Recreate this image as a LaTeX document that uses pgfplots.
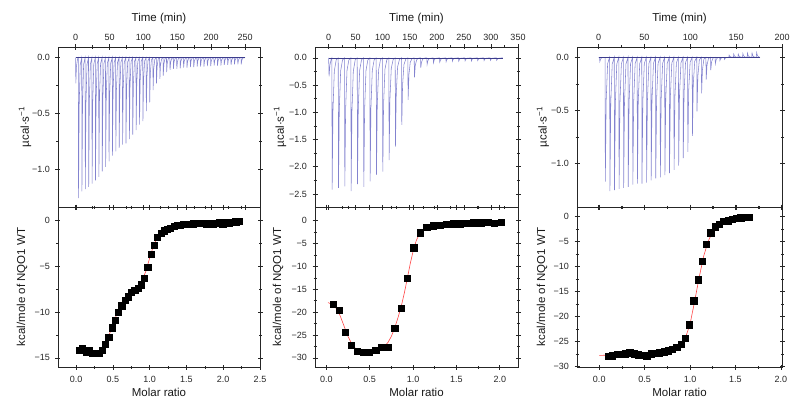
\documentclass[border=0pt]{standalone}
\usepackage{fontspec}
\setmainfont{Liberation Sans}
\usepackage{pgfplots}
\pgfplotsset{compat=1.18}

\definecolor{thermo}{RGB}{100,100,195}
\definecolor{base}{RGB}{60,60,140}
\definecolor{fitred}{RGB}{255,70,70}

\pgfplotsset{
  itc/.style={
    scale only axis, height=160pt, anchor=south west,
    axis line style={line width=0.7pt, black!85},
    every tick/.style={line width=0.6pt, black!85},
    major tick length=5pt, minor tick length=3pt,
    tick align=center,
    minor x tick num=1, minor y tick num=1,
    ticklabel style={font=\fontsize{9}{10}\selectfont, text=black!85},
    yticklabel style={xshift=-2pt},
    label style={font=\fontsize{11.5}{13}\selectfont, text=black!90},
    clip=true,
  },
  topitc/.style={itc, xticklabel pos=upper,
    xticklabel style={yshift=0.5pt},
    xlabel={Time (min)}, ylabel={µcal·s\textsuperscript{−1}},
    xlabel style={at={(axis description cs:0.5,1.175)}, anchor=center},
  },
  botitc/.style={itc,
    xticklabel style={yshift=-3pt},
    xlabel={Molar ratio}, ylabel={kcal/mole of NQO1 WT},
    xlabel style={at={(axis description cs:0.5,-0.16)}, anchor=center},
  },
  spk/.style={thermo, line width=0.55pt, opacity=0.8},
  bsl/.style={base, line width=0.6pt},
  fit/.style={fitred, line width=0.6pt},
  pts/.style={only marks, mark=square*, mark size=3.1pt, black},
}

\begin{document}
\begin{tikzpicture}
\useasboundingbox (0,0) rectangle (800pt,413pt);

% ================= Panel 1 =================
\begin{axis}[topitc, at={(58pt,206pt)}, width=202pt,
  xmin=-26, xmax=272, ymin=-1.34, ymax=0.096,
  xtick={0,50,100,150,200,250}, xticklabels={0,50,100,150,200,250},
  ytick={-1,-0.5,0}, yticklabels={−1.0,−0.5,0.0},
  ylabel style={at={(axis description cs:-0.163,0.5)}, anchor=center},
]
\addplot[spk] coordinates {
(0,0)(0.3,-0.23)(1.2,-0.08)(2.8,-0.012)
(4,0)(4.3,-1.26)(5.2,-0.441)(6.8,-0.063)
(9,0)(9.3,-1.20)(10.2,-0.42)(11.8,-0.06)
(14,0)(14.3,-1.18)(15.2,-0.413)(16.8,-0.059)
(19,0)(19.3,-1.16)(20.2,-0.406)(21.8,-0.058)
(24,0)(24.3,-1.13)(25.2,-0.396)(26.8,-0.057)
(29,0)(29.3,-1.10)(30.2,-0.385)(31.8,-0.055)
(34,0)(34.3,-1.07)(35.2,-0.375)(36.8,-0.054)
(39,0)(39.3,-1.02)(40.2,-0.357)(41.8,-0.051)
(44,0)(44.3,-0.98)(45.2,-0.343)(46.8,-0.049)
(49,0)(49.3,-0.93)(50.2,-0.326)(51.8,-0.047)
(54,0)(54.3,-0.88)(55.2,-0.308)(56.8,-0.044)
(59,0)(59.3,-0.84)(60.2,-0.294)(61.8,-0.042)
(64,0)(64.3,-0.81)(65.2,-0.284)(66.8,-0.041)
(69,0)(69.3,-0.78)(70.2,-0.273)(71.8,-0.039)
(74,0)(74.3,-0.77)(75.2,-0.27)(76.8,-0.039)
(79,0)(79.3,-0.73)(80.2,-0.256)(81.8,-0.037)
(84,0)(84.3,-0.69)(85.2,-0.242)(86.8,-0.035)
(89,0)(89.3,-0.65)(90.2,-0.228)(91.8,-0.033)
(94,0)(94.3,-0.60)(95.2,-0.21)(96.8,-0.03)
(99,0)(99.3,-0.57)(100.2,-0.20)(101.8,-0.029)
(104,0)(104.3,-0.48)(105.2,-0.168)(106.8,-0.024)
(109,0)(109.3,-0.40)(110.2,-0.14)(111.8,-0.02)
(114,0)(114.3,-0.29)(115.2,-0.102)(116.8,-0.015)
(119,0)(119.3,-0.23)(120.2,-0.081)(121.8,-0.012)
(124,0)(124.3,-0.19)(125.2,-0.067)(126.8,-0.01)
(129,0)(129.3,-0.16)(130.2,-0.056)(131.8,-0.008)
(134,0)(134.3,-0.13)(135.2,-0.046)(136.8,-0.007)
(139,0)(139.3,-0.11)(140.2,-0.039)(141.8,-0.006)
(144,0)(144.3,-0.10)(145.2,-0.035)(146.8,-0.005)
(149,0)(149.3,-0.10)(150.2,-0.035)(151.8,-0.005)
(154,0)(154.3,-0.095)(155.2,-0.033)(156.8,-0.005)
(159,0)(159.3,-0.09)(160.2,-0.032)(161.8,-0.005)
(164,0)(164.3,-0.09)(165.2,-0.032)(166.8,-0.005)
(169,0)(169.3,-0.085)(170.2,-0.03)(171.8,-0.004)
(174,0)(174.3,-0.085)(175.2,-0.03)(176.8,-0.004)
(179,0)(179.3,-0.08)(180.2,-0.028)(181.8,-0.004)
(184,0)(184.3,-0.08)(185.2,-0.028)(186.8,-0.004)
(189,0)(189.3,-0.08)(190.2,-0.028)(191.8,-0.004)
(194,0)(194.3,-0.075)(195.2,-0.026)(196.8,-0.004)
(199,0)(199.3,-0.075)(200.2,-0.026)(201.8,-0.004)
(204,0)(204.3,-0.07)(205.2,-0.025)(206.8,-0.004)
(209,0)(209.3,-0.07)(210.2,-0.025)(211.8,-0.004)
(214,0)(214.3,-0.07)(215.2,-0.025)(216.8,-0.004)
(219,0)(219.3,-0.065)(220.2,-0.023)(221.8,-0.003)
(224,0)(224.3,-0.065)(225.2,-0.023)(226.8,-0.003)
(229,0)(229.3,-0.065)(230.2,-0.023)(231.8,-0.003)
(234,0)(234.3,-0.06)(235.2,-0.021)(236.8,-0.003)
(239,0)(239.3,-0.06)(240.2,-0.021)(241.8,-0.003)
(244,0)(244.3,-0.06)(245.2,-0.021)(246.8,-0.003)
(250,0)
};
\addplot[bsl] coordinates {(0,0)(250,0)};
\end{axis}

\begin{axis}[botitc, at={(58pt,46pt)}, width=202pt,
  xmin=-0.245, xmax=2.5, ymin=-16, ymax=1.5,
  xtick={0,0.5,1,1.5,2,2.5}, xticklabels={0.0,0.5,1.0,1.5,2.0,2.5},
  ytick={-15,-10,-5,0}, yticklabels={−15,−10,−5,0},
  ylabel style={at={(axis description cs:-0.178,0.5)}, anchor=center},
]
\addplot[fit] coordinates {
(0.045,-14.2)(0.1,-14.25)(0.2,-14.35)(0.3,-14.3)(0.35,-14.0)(0.4,-13.4)(0.45,-12.5)
(0.5,-11.4)(0.55,-10.3)(0.6,-9.3)(0.65,-8.6)(0.7,-8.1)(0.75,-7.75)(0.8,-7.45)
(0.85,-7.1)(0.9,-6.5)(0.95,-5.5)(1.0,-4.1)(1.05,-2.8)(1.1,-1.85)(1.15,-1.3)
(1.2,-1.0)(1.3,-0.7)(1.4,-0.5)(1.6,-0.35)(1.8,-0.28)(2.0,-0.24)(2.216,-0.2)
};
\addplot[pts] coordinates {
(0.045,-14.2)(0.089,-13.9)(0.134,-14.4)(0.178,-14.2)(0.222,-14.5)(0.267,-14.5)
(0.311,-14.45)(0.355,-14.2)(0.399,-13.5)(0.444,-12.7)(0.488,-11.7)(0.532,-10.9)
(0.577,-10.0)(0.621,-9.3)(0.665,-8.7)(0.710,-8.3)(0.754,-7.8)(0.798,-7.6)
(0.842,-7.35)(0.887,-7.0)(0.931,-6.25)(0.975,-5.1)(1.020,-3.65)(1.064,-2.7)
(1.108,-1.8)(1.152,-1.35)(1.197,-1.1)(1.241,-0.9)(1.285,-0.8)(1.330,-0.6)
(1.374,-0.5)(1.418,-0.45)(1.463,-0.4)(1.507,-0.35)(1.551,-0.4)(1.595,-0.33)
(1.640,-0.3)(1.684,-0.25)(1.728,-0.25)(1.773,-0.33)(1.817,-0.3)(1.861,-0.33)
(1.905,-0.25)(1.950,-0.2)(1.994,-0.33)(2.038,-0.22)(2.083,-0.22)(2.127,-0.18)
(2.171,-0.1)(2.216,-0.07)
};
\end{axis}

% ================= Panel 2 =================
\begin{axis}[topitc, at={(315pt,206pt)}, width=203pt,
  xmin=-25.2, xmax=350, ymin=-2.74, ymax=0.2,
  xtick={0,50,100,150,200,250,300,350}, xticklabels={0,50,100,150,200,250,300,350},
  ytick={-2.5,-2,-1.5,-1,-0.5,0}, yticklabels={−2.5,−2.0,−1.5,−1.0,−0.5,0.0},
  ylabel style={at={(axis description cs:-0.172,0.5)}, anchor=center},
]
\addplot[spk] coordinates {
(0,0)(0.8,-0.34)(2.3,-0.136)(4.5,-0.034)
(6,0)(6.5,-2.42)(8,-0.968)(10.5,-0.242)(14,-0.036)
(17.7,0)(18.2,-2.39)(19.7,-0.956)(22.2,-0.239)(25.7,-0.036)
(29.4,0)(29.9,-2.36)(31.4,-0.944)(33.9,-0.236)(37.4,-0.035)
(41.1,0)(41.6,-2.45)(43.1,-0.98)(45.6,-0.245)(49.1,-0.037)
(52.8,0)(53.3,-2.32)(54.8,-0.928)(57.3,-0.232)(60.8,-0.035)
(64.5,0)(65,-2.37)(66.5,-0.948)(69,-0.237)(72.5,-0.036)
(76.2,0)(76.7,-2.27)(78.2,-0.908)(80.7,-0.227)(84.2,-0.034)
(87.9,0)(88.4,-2.15)(89.9,-0.86)(92.4,-0.215)(95.9,-0.032)
(99.6,0)(100.1,-2.09)(101.6,-0.836)(104.1,-0.209)(107.6,-0.031)
(111.3,0)(111.8,-1.88)(113.3,-0.752)(115.8,-0.188)(119.3,-0.028)
(123,0)(123.5,-1.63)(125,-0.652)(127.5,-0.163)(131,-0.024)
(134.7,0)(135.2,-1.23)(136.7,-0.492)(139.2,-0.123)(142.7,-0.018)
(146.4,0)(146.9,-0.77)(148.4,-0.308)(150.9,-0.077)(154.4,-0.012)
(158.1,0)(158.6,-0.36)(160.1,-0.144)(162.6,-0.036)(166.1,-0.005)
(169.8,0)(170.3,-0.18)(171.8,-0.072)(174.3,-0.018)(177.8,-0.003)
(181.5,0)(182,-0.12)(183.5,-0.048)(186,-0.012)
(193.2,0)(193.7,-0.09)(195.2,-0.036)(197.7,-0.009)
(204.9,0)(205.4,-0.08)(206.9,-0.032)(209.4,-0.008)
(216.6,0)(217.1,-0.07)(218.6,-0.028)(221.1,-0.007)
(228.3,0)(228.8,-0.06)(230.3,-0.024)(232.8,-0.006)
(240,0)(240.5,-0.06)(242,-0.024)(244.5,-0.006)
(251.7,0)(252.2,-0.055)(253.7,-0.022)(256.2,-0.006)
(263.4,0)(263.9,-0.055)(265.4,-0.022)(267.9,-0.006)
(275.1,0)(275.6,-0.05)(277.1,-0.02)(279.6,-0.005)
(286.8,0)(287.3,-0.05)(288.8,-0.02)(291.3,-0.005)
(298.5,0)(299,-0.045)(300.5,-0.018)(303,-0.005)
(310.2,0)(310.7,-0.045)(312.2,-0.018)(314.7,-0.005)
(322,0)
};
\addplot[bsl] coordinates {(0,0)(322,0)};
\end{axis}

\begin{axis}[botitc, at={(315pt,46pt)}, width=203pt,
  xmin=-0.13, xmax=2.21, ymin=-32, ymax=3,
  xtick={0,0.5,1,1.5,2}, xticklabels={0.0,0.5,1.0,1.5,2.0},
  ytick={-30,-25,-20,-15,-10,-5,0}, yticklabels={−30,−25,−20,−15,−10,−5,0},
  ylabel style={at={(axis description cs:-0.182,0.5)}, anchor=center},
]
\addplot[fit] coordinates {
(0.02,-17.9)(0.077,-18.4)(0.12,-19.3)(0.16,-20.8)(0.216,-23.6)(0.25,-25.3)
(0.285,-26.6)(0.32,-27.6)(0.354,-28.2)(0.427,-28.75)(0.496,-28.85)(0.57,-28.55)
(0.639,-27.9)(0.68,-27.3)(0.712,-26.6)(0.75,-25.3)(0.789,-23.4)(0.825,-21.3)
(0.862,-18.9)(0.9,-15.8)(0.934,-12.6)(0.97,-9.2)(1.008,-6.1)(1.04,-4.2)
(1.084,-2.6)(1.12,-1.9)(1.158,-1.5)(1.234,-1.1)(1.31,-0.88)(1.4,-0.75)
(1.6,-0.6)(1.8,-0.5)(2.02,-0.45)
};
\addplot[pts] coordinates {
(0.077,-18.2)(0.146,-19.6)(0.216,-24.3)(0.285,-27.25)(0.354,-28.5)(0.427,-28.8)
(0.496,-28.8)(0.570,-28.3)(0.639,-27.7)(0.712,-27.75)(0.789,-23.5)(0.862,-19.1)
(0.934,-12.6)(1.008,-5.9)(1.084,-2.6)(1.158,-1.5)(1.234,-1.1)(1.310,-0.94)
(1.389,-0.72)(1.465,-0.65)(1.540,-0.65)(1.620,-0.6)(1.700,-0.45)(1.780,-0.45)
(1.860,-0.4)(1.940,-0.6)(2.020,-0.38)
};
\end{axis}

% ================= Panel 3 =================
\begin{axis}[topitc, at={(577pt,206pt)}, width=205pt,
  xmin=-23.6, xmax=200, ymin=-1.41, ymax=0.097,
  xtick={0,50,100,150,200}, xticklabels={0,50,100,150,200},
  ytick={-1,-0.5,0}, yticklabels={−1.0,−0.5,0.0},
  ylabel style={at={(axis description cs:-0.166,0.5)}, anchor=center},
]
\addplot[spk] coordinates {
(0,0)(1,0)(1.3,-0.04)(2.2,-0.014)(3.8,-0.002)
(7,0)(7.3,-1.17)(8.2,-0.41)(9.8,-0.059)
(12,0)(12.3,-1.26)(13.2,-0.441)(14.8,-0.063)
(17,0)(17.3,-1.25)(18.2,-0.438)(19.8,-0.063)
(22,0)(22.3,-1.24)(23.2,-0.434)(24.8,-0.062)
(27,0)(27.3,-1.23)(28.2,-0.431)(29.8,-0.062)
(32,0)(32.3,-1.22)(33.2,-0.427)(34.8,-0.061)
(37,0)(37.3,-1.20)(38.2,-0.42)(39.8,-0.06)
(42,0)(42.3,-1.19)(43.2,-0.417)(44.8,-0.06)
(47,0)(47.3,-1.19)(48.2,-0.417)(49.8,-0.06)
(52,0)(52.3,-1.18)(53.2,-0.413)(54.8,-0.059)
(57,0)(57.3,-1.16)(58.2,-0.406)(59.8,-0.058)
(62,0)(62.3,-1.14)(63.2,-0.399)(64.8,-0.057)
(67,0)(67.3,-1.13)(68.2,-0.396)(69.8,-0.057)
(72,0)(72.3,-1.11)(73.2,-0.389)(74.8,-0.056)
(77,0)(77.3,-1.09)(78.2,-0.382)(79.8,-0.055)
(82,0)(82.3,-1.06)(83.2,-0.371)(84.8,-0.053)
(87,0)(87.3,-1.02)(88.2,-0.357)(89.8,-0.051)
(92,0)(92.3,-0.95)(93.2,-0.333)(94.8,-0.048)
(97,0)(97.3,-0.89)(98.2,-0.312)(99.8,-0.045)
(102,0)(102.3,-0.74)(103.2,-0.259)(104.8,-0.037)
(107,0)(107.3,-0.51)(108.2,-0.179)(109.8,-0.026)
(112,0)(112.3,-0.34)(113.2,-0.119)(114.8,-0.017)
(117,0)(117.3,-0.21)(118.2,-0.074)(119.8,-0.011)
(122,0)(122.3,-0.12)(123.2,-0.042)(124.8,-0.006)
(127,0)(127.3,-0.06)(128.2,-0.021)(129.8,-0.003)
(132,0)(132.3,-0.03)(133.2,-0.011)(134.8,-0.002)
(137,0)(137.3,-0.02)(138.2,-0.007)(139.8,0)
(142,0)(142.3,0.02)(143.2,0.007)(144.8,0.001)
(147,0)(147.3,0.03)(148.2,0.011)(149.8,0.002)
(152,0)(152.3,0.03)(153.2,0.011)(154.8,0.002)
(157,0)(157.3,0.035)(158.2,0.012)(159.8,0.002)
(162,0)(162.3,0.04)(163.2,0.014)(164.8,0.002)
(167,0)(167.3,0.04)(168.2,0.014)(169.8,0.002)
(172,0)(172.3,0.045)(173.2,0.016)(174.8,0.002)
(176,0)
};
\addplot[bsl] coordinates {(0,0)(176,0)};
\end{axis}

\begin{axis}[botitc, at={(577pt,46pt)}, width=205pt,
  xmin=-0.245, xmax=2.013, ymin=-30.07, ymax=1.93,
  xtick={0,0.5,1,1.5,2}, xticklabels={0.0,0.5,1.0,1.5,2.0},
  ytick={-30,-25,-20,-15,-10,-5,0}, yticklabels={−30,−25,−20,−15,−10,−5,0},
  ylabel style={at={(axis description cs:-0.171,0.5)}, anchor=center},
]
\addplot[fit] coordinates {
(0.0,-27.75)(0.1,-27.7)(0.3,-27.6)(0.5,-27.5)(0.7,-27.2)(0.8,-26.8)(0.9,-25.7)
(0.95,-24.2)(1.0,-21.5)(1.05,-17.0)(1.1,-12.2)(1.15,-7.9)(1.2,-4.9)(1.25,-3.0)
(1.3,-1.9)(1.4,-0.9)(1.5,-0.45)(1.651,-0.15)
};
\addplot[pts] coordinates {
(0.100,-27.9)(0.147,-27.8)(0.194,-27.5)(0.241,-27.5)(0.288,-27.4)(0.335,-27.2)
(0.382,-27.4)(0.429,-27.6)(0.476,-27.7)(0.523,-27.8)(0.570,-27.4)(0.617,-27.3)
(0.664,-27.2)(0.711,-27.0)(0.758,-26.8)(0.805,-26.5)(0.852,-26.1)(0.899,-25.5)
(0.946,-24.3)(0.993,-21.6)(1.040,-16.8)(1.087,-12.6)(1.134,-8.9)(1.181,-5.5)
(1.228,-3.2)(1.275,-2.0)(1.322,-1.5)(1.369,-0.9)(1.416,-0.8)(1.463,-0.5)
(1.510,-0.3)(1.557,-0.2)(1.604,-0.05)(1.651,-0.05)
};
\end{axis}
\end{tikzpicture}
\end{document}
